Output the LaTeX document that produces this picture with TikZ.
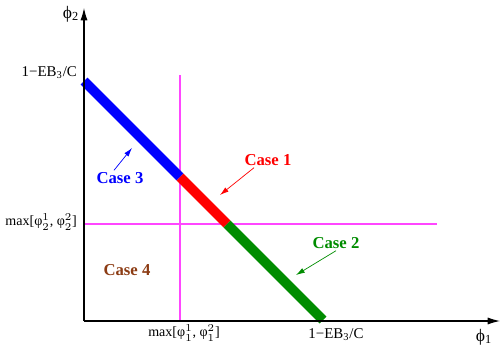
\documentclass[tikz,border=0pt]{standalone}
\usepackage{fontspec}
\setmainfont{Liberation Serif}
\usetikzlibrary{arrows.meta}
\usepackage{xcolor}
\definecolor{casebrown}{RGB}{140,60,20}
\definecolor{casegreen}{RGB}{0,140,0}
\definecolor{guidemag}{RGB}{255,70,255}

\begin{document}
\begin{tikzpicture}[x=0.02cm, y=-0.02cm,
  axis/.style={-{Latex[length=7pt,width=4pt]}, semithick},
  guide/.style={draw=guidemag, line width=0.7pt},
  band/.style={line width=5.6pt},
  lbl/.style={font=\fontsize{8.5}{10}\selectfont, inner sep=1pt},
  maxlbl/.style={font=\fontsize{8}{10}\selectfont, inner sep=1pt},
  case/.style={font=\fontsize{9.5}{11}\selectfont\bfseries, inner sep=1pt},
  arr/.style={-{Latex[length=5pt,width=3pt]}, thin},
]
  \useasboundingbox (0,0) rectangle (501,349);

  \coordinate (O) at (84,321);
  \coordinate (ytip) at (84,8);
  \coordinate (xtip) at (500,321);
  \coordinate (vtop) at (180,75);
  \coordinate (vbot) at (180,321);
  \coordinate (hleft) at (84,224);
  \coordinate (hright) at (437,224);

  \draw[guide] (vtop) -- (vbot);
  \draw[guide] (hleft) -- (hright);

  \coordinate (top) at (84,81);
  \coordinate (b1) at (180,177);
  \coordinate (b2) at (227,224);
  \coordinate (bottom) at (323,320);
  \draw[band, blue] (top) -- (b1);
  \draw[band, red] (b1) -- (b2);
  \draw[band, casegreen] (b2) -- (bottom);

  \draw[axis] (O) -- (ytip);
  \draw[axis] (O) -- (xtip);

  \node[lbl, font=\fontsize{10}{12}\selectfont] (phitwo) at (71,14) {ϕ\textsubscript{2}};
  \node[lbl, font=\fontsize{10}{12}\selectfont] (phione) at (484,337) {ϕ\textsubscript{1}};
  \node[lbl, anchor=east] (ytop) at (79,73) {1−EB\textsubscript{3}/C};
  \node[maxlbl, anchor=east] (ymax) at (79,222) {max[φ$^1_2$, φ$^2_2$]};
  \node[maxlbl] (xmax) at (184,333) {max[φ$^1_1$, φ$^2_1$]};
  \node[lbl] (xtop) at (336,335) {1−EB\textsubscript{3}/C};

  \node[case, red] (case1) at (268,160) {Case 1};
  \node[case, casegreen] (case2) at (336,243) {Case 2};
  \node[case, blue] (case3) at (120,178) {Case 3};
  \node[case, casebrown] (case4) at (127,270) {Case 4};

  \coordinate (tip1) at (220,195);
  \coordinate (tip2) at (296,275);
  \coordinate (tip3) at (132,148);
  \draw[arr, red] (case1.south) ++(-14,0) -- (tip1);
  \draw[arr, casegreen] (case2.south) -- (tip2);
  \draw[arr, blue] (case3.north) ++(-6,0) -- (tip3);
\end{tikzpicture}
\end{document}
